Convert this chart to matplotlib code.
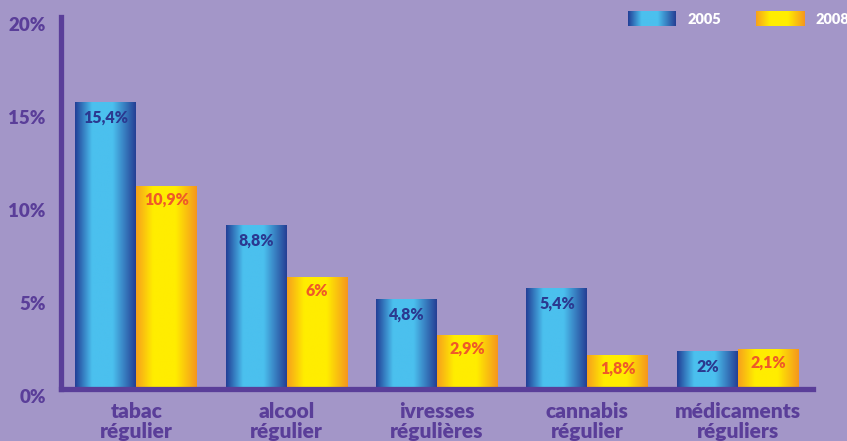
import matplotlib
matplotlib.use("Agg")
import matplotlib.pyplot as plt
import numpy as np
from matplotlib.colors import LinearSegmentedColormap

# data
categories = ["tabac\nrégulier", "alcool\nrégulier", "ivresses\nrégulières",
              "cannabis\nrégulier", "médicaments\nréguliers"]
v2005 = [15.4, 8.8, 4.8, 5.4, 2.0]
v2008 = [10.9, 6.0, 2.9, 1.8, 2.1]
lab2005 = ["15,4%", "8,8%", "4,8%", "5,4%", "2%"]
lab2008 = ["10,9%", "6%", "2,9%", "1,8%", "2,1%"]
yticks = [0, 5, 10, 15, 20]
ylabels = ["0%", "5%", "10%", "15%", "20%"]

bg = "#A396C8"
purple = "#5A3E99"
font = "Lato"
wt = "heavy"

blue_cm = LinearSegmentedColormap.from_list(
    "b", [(0, "#213E96"), (0.28, "#4BC0EE"), (0.62, "#4BC0EE"), (1, "#253E94")])
yellow_cm = LinearSegmentedColormap.from_list(
    "y", [(0, "#F7A01C"), (0.28, "#FFED00"), (0.65, "#FFED00"), (1, "#F5961E")])
grad = np.linspace(0, 1, 256).reshape(1, -1)

fig = plt.figure(figsize=(8.47, 4.41), dpi=100)
fig.patch.set_facecolor(bg)
ax = fig.add_axes([61 / 847, 1 - 389 / 441, (813 - 61) / 847, (389 - 17) / 441])
ax.set_facecolor(bg)

x = np.arange(len(categories))
w = 0.405
b1 = ax.bar(x - w / 2, v2005, w, color="none")
b2 = ax.bar(x + w / 2, v2008, w, color="none")


def fill(bars, cmap):
    for p in bars:
        x0, y0, ww, hh = p.get_x(), p.get_y(), p.get_width(), p.get_height()
        ax.imshow(grad, cmap=cmap, aspect="auto", extent=[x0, x0 + ww, y0, y0 + hh],
                  zorder=2, interpolation="bilinear")


fill(b1, blue_cm)
fill(b2, yellow_cm)

for i in range(len(categories)):
    ax.annotate(lab2005[i], (x[i] - w / 2, v2005[i]), xytext=(0, -11),
                textcoords="offset points", ha="center", va="center",
                color="#2B3990", fontsize=11.5, fontweight=wt, family=font, zorder=3)
    ax.annotate(lab2008[i], (x[i] + w / 2, v2008[i]), xytext=(0, -9.5),
                textcoords="offset points", ha="center", va="center",
                color="#EF5A28", fontsize=11.5, fontweight=wt, family=font, zorder=3)

ax.set_xlim(-0.5, 4.5)
ax.set_ylim(0, 20)
for s in ["top", "right"]:
    ax.spines[s].set_visible(False)
for s in ["left", "bottom"]:
    ax.spines[s].set_color(purple)
    ax.spines[s].set_linewidth(3.8)
    ax.spines[s].set_zorder(4)

ax.set_yticks(yticks)
ax.set_yticklabels(ylabels, va="top")
ax.set_xticks(x)
ax.set_xticklabels(categories, linespacing=1.1)
ax.tick_params(length=0, colors=purple)
ax.tick_params(axis="y", pad=11)
ax.tick_params(axis="x", pad=9)
for t in ax.get_yticklabels() + ax.get_xticklabels():
    t.set_fontweight(wt)
    t.set_family(font)
    t.set_color(purple)
for t in ax.get_yticklabels():
    t.set_fontsize(13.5)
for t in ax.get_xticklabels():
    t.set_fontsize(15)

# legend
for (x0, cmap, txt) in [(628, blue_cm, "2005"), (756, yellow_cm, "2008")]:
    lax = fig.add_axes([x0 / 847, 1 - 26 / 441, 48 / 847, 15 / 441])
    lax.imshow(grad, cmap=cmap, aspect="auto", interpolation="bilinear")
    lax.axis("off")
    fig.text((x0 + 59) / 847, 1 - 19 / 441, txt, color="white", fontsize=10.5,
             fontweight=wt, family=font, va="center", ha="left")

fig.savefig("out.png", dpi=100, facecolor=bg)
